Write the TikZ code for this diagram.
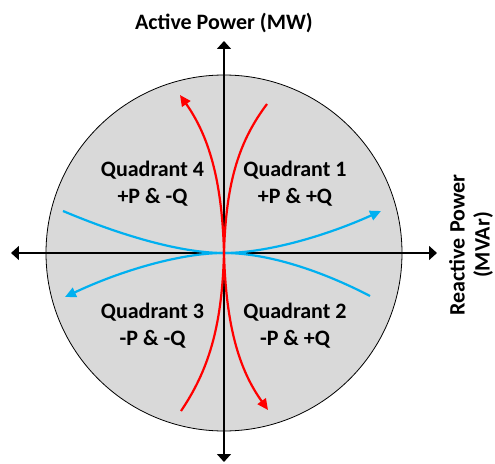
\documentclass[tikz,border=0pt]{standalone}
\usepackage{fontspec}
\setmainfont{Carlito}
\usetikzlibrary{arrows.meta}
\definecolor{quadgray}{RGB}{217,217,217}
\definecolor{pred}{RGB}{255,0,0}
\definecolor{qblue}{RGB}{0,176,240}

\begin{document}
\begin{tikzpicture}[x=1pt, y=1pt, font=\bfseries\fontsize{22}{27}\selectfont]
    \tikzstyle{axis}=[line width=1.6pt, -{Triangle[length=8pt,width=14pt]}]
    \tikzstyle{pcurve}=[pred, line width=2.2pt]
    \tikzstyle{qcurve}=[qblue, line width=2.2pt]
    \tikzstyle{tip}=[-{Triangle[length=11pt,width=10pt]}]
    \tikzstyle{quad}=[align=center]
    \useasboundingbox (-224,-210) rectangle (271,253);
    % operating circle
    \node[circle, draw, fill=quadgray, minimum size=356pt, inner sep=0pt, line width=0.8pt] (disk) at (0,0) {};
    \coordinate (o) at (0,0);
    % axes
    \coordinate (ptop) at (0,212);
    \coordinate (pbot) at (0,-209);
    \coordinate (qleft) at (-213,0);
    \coordinate (qright) at (213,0);
    \draw[axis] (o) -- (ptop);
    \draw[axis] (o) -- (pbot);
    \draw[axis] (o) -- (qleft);
    \draw[axis] (o) -- (qright);
    \node (plabel) at (0,230) {Active Power (MW)};
    \node[rotate=90, align=center, font=\bfseries\fontsize{22}{25}\selectfont] (qlabel) at (247,8) {Reactive Power\\(MVAr)};
    % quadrant labels
    \node[quad] (quad1) at (71,69) {Quadrant 1\\+P \& +Q};
    \node[quad] (quad2) at (71,-73) {Quadrant 2\\-P \& +Q};
    \node[quad] (quad3) at (-71.5,-73) {Quadrant 3\\-P \& -Q};
    \node[quad] (quad4) at (-71.5,69) {Quadrant 4\\+P \& -Q};
    % reactive power curves
    \coordinate (b1) at (157,42);
    \coordinate (b2) at (146,-43);
    \coordinate (b3) at (-159,-44);
    \coordinate (b4) at (-161,42);
    \draw[qcurve, tip] (o) .. controls (44,0) and (104,18) .. (b1);
    \draw[qcurve] (o) .. controls (44,0) and (98,-18) .. (b2);
    \draw[qcurve, tip] (o) .. controls (-44,0) and (-104,-18) .. (b3);
    \draw[qcurve] (o) .. controls (-44,0) and (-104,18) .. (b4);
    % active power curves
    \coordinate (r1) at (43,149);
    \coordinate (r2) at (44,-157);
    \coordinate (r3) at (-43,-158);
    \coordinate (r4) at (-44,158);
    \draw[pcurve] (o) .. controls (2,73) and (16,113) .. (r1);
    \draw[pcurve, tip] (o) .. controls (2,-75) and (16,-118) .. (r2);
    \draw[pcurve] (o) .. controls (-2,-75) and (-16,-118) .. (r3);
    \draw[pcurve, tip] (o) .. controls (-2,75) and (-16,118) .. (r4);
\end{tikzpicture}
\end{document}
